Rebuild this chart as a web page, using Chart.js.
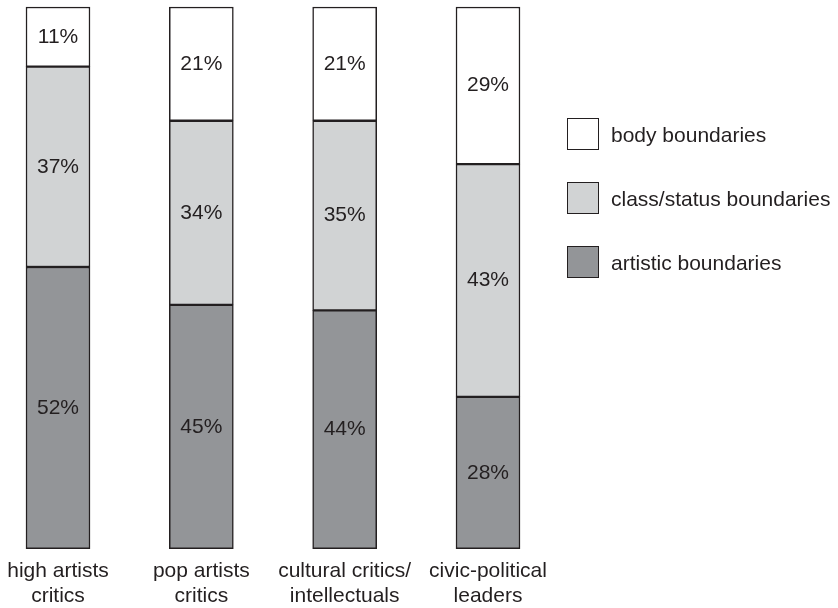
<!DOCTYPE html>
<html>
<head>
<meta charset="utf-8">
<script src="https://cdn.jsdelivr.net/npm/chart.js@4"></script>
<style>
  html, body { margin: 0; padding: 0; background: #fff; overflow: hidden; }
  #wrap { position: relative; width: 838px; height: 608px; overflow: hidden; }
  #c { position: absolute; left: 0; top: 0; }
  .leg { position: absolute; left: 567px; font-family: "Liberation Sans", Arial, sans-serif; font-size: 21px; color: #231f20; }
  .leg .box { position: absolute; left: 0; top: 0; width: 30px; height: 30px; border: 1.5px solid #231f20; }
  .leg .txt { position: absolute; left: 44px; top: 0; height: 33px; line-height: 33px; white-space: nowrap; }
</style>
</head>
<body>
<div id="wrap">
  <canvas id="c" width="838" height="608"></canvas>
</div>
<script>
const categories = [["high artists", "critics"], ["pop artists", "critics"], ["cultural critics/", "intellectuals"], ["civic-political", "leaders"]];
const artistic = [52, 45, 44, 28];
const classStatus = [37, 34, 35, 43];
const body = [11, 21, 21, 29];
const seriesNames = ["artistic boundaries", "class/status boundaries", "body boundaries"];
const seriesColors = ["#939598", "#d1d3d4", "#ffffff"];

const FONT = '"Liberation Sans", Arial, sans-serif';
const INK = '#231f20';

const labelPlugin = {
  id: 'pctLabels',
  afterDatasetsDraw(chart) {
    const ctx = chart.ctx;
    ctx.save();
    ctx.font = '21px ' + FONT;
    ctx.fillStyle = INK;
    ctx.textAlign = 'center';
    ctx.textBaseline = 'middle';
    chart.data.datasets.forEach((ds, di) => {
      const meta = chart.getDatasetMeta(di);
      meta.data.forEach((bar, i) => {
        const p = bar.getProps(['x', 'y', 'base'], true);
        ctx.fillText(ds.data[i] + '%', p.x, (p.y + p.base) / 2);
      });
    });
    ctx.restore();
  }
};

const datasets = [artistic, classStatus, body].map((d, k) => ({
  label: seriesNames[k],
  data: d,
  backgroundColor: seriesColors[k],
  borderColor: INK,
  borderWidth: 1.5,
  borderSkipped: false,
  barThickness: 64,
  clip: false
}));

new Chart(document.getElementById('c'), {
  type: 'bar',
  data: { labels: categories, datasets },
  options: {
    responsive: false,
    animation: false,
    layout: { padding: { left: 58, right: 350, top: 7, bottom: -3 } },
    plugins: { legend: { display: false }, tooltip: { enabled: false } },
    scales: {
      x: {
        stacked: true,
        offset: false,
        grid: { display: false },
        border: { display: false },
        ticks: {
          color: INK,
          font: { family: FONT, size: 21, lineHeight: 1.2 },
          padding: 2,
          maxRotation: 0,
          autoSkip: false
        }
      },
      y: {
        stacked: true,
        display: false,
        min: 0,
        max: 100
      }
    }
  },
  plugins: [labelPlugin]
});

// legend (HTML), top-down: body, class/status, artistic
const wrap = document.getElementById('wrap');
const order = [2, 1, 0];
order.forEach((k, j) => {
  const el = document.createElement('div');
  el.className = 'leg';
  el.style.top = (118 + j * 64) + 'px';
  el.innerHTML = '<div class="box" style="background:' + seriesColors[k] + '"></div><div class="txt">' + seriesNames[k] + '</div>';
  wrap.appendChild(el);
});
</script>
</body>
</html>
